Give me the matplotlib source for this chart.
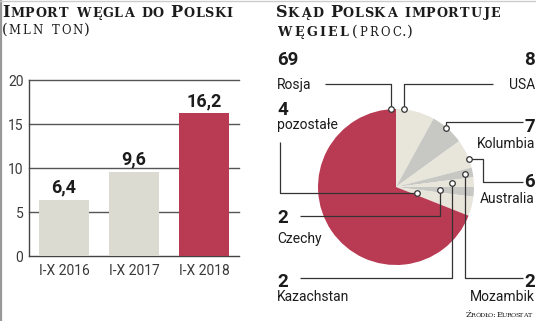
import matplotlib
matplotlib.use('Agg')
import matplotlib.pyplot as plt
import numpy as np
from matplotlib.textpath import TextPath
from matplotlib.font_manager import FontProperties

W, H = 536, 321

# bar chart data
years = ['I-X 2016', 'I-X 2017', 'I-X 2018']
imports = [6.4, 9.6, 16.2]
import_labels = ['6,4', '9,6', '16,2']
y_ticks = [0, 5, 10, 15, 20]

# pie chart data (clockwise from 12 o'clock)
countries = ['USA', 'Kolumbia', 'Australia', 'Mozambik', 'Kazachstan', 'Czechy', 'pozostałe', 'Rosja']
shares = [8, 7, 6, 2, 2, 2, 4, 69]

RED = '#b93a53'
BEIGE = '#e8e5db'
GREY = '#c7c8c3'
BAR_BEIGE = '#dcdbd2'
INK = '#1c1c1c'
LINE = '#333333'

pie_colors = [BEIGE, GREY, BEIGE, GREY, BEIGE, GREY, BEIGE, RED]

SANS = 'Roboto'
SERIF = 'DejaVu Serif'

fig = plt.figure(figsize=(W / 100, H / 100), dpi=100)

# --- bar chart ---
ax = fig.add_axes([29 / W, 1 - 256 / H, 210 / W, 176 / H])
xs = range(len(years))
ax.bar(xs, imports, width=50 / 70, color=[BAR_BEIGE, BAR_BEIGE, RED], zorder=3)
for v in y_ticks[1:]:
    ax.axhline(v, color='#555555', lw=1, zorder=1, clip_on=False)
ax.set_xlim(-0.5, 2.5)
ax.set_ylim(0, 20)
ax.set_yticks(y_ticks)
ax.set_xticks(list(xs))
ax.set_xticklabels(years)
ax.tick_params(length=0, labelsize=10, colors='#3a3a3a', pad=4)
ax.tick_params(axis='x', pad=6)
for lab in ax.get_xticklabels() + ax.get_yticklabels():
    lab.set_family(SANS)
for lab in ax.get_yticklabels():
    lab.set_verticalalignment('center_baseline')
for s in ['top', 'right']:
    ax.spines[s].set_visible(False)
for s in ['left', 'bottom']:
    ax.spines[s].set_color('#444444')
    ax.spines[s].set_linewidth(1)
for x, v, lab in zip(xs, imports, import_labels):
    ax.annotate(lab, (x, v), xytext=(0, 2), textcoords='offset points',
                ha='center', va='bottom', fontsize=13, fontweight='bold',
                family=SANS, color=INK)

# --- overlay in pixel units (y up) ---
ov = fig.add_axes([0, 0, 1, 1], zorder=5)
ov.patch.set_alpha(0)

cx, cy, r = 396, 187, 78
wedges, _ = ov.pie(shares, colors=pie_colors, startangle=90, counterclock=False,
                   center=(cx, H - cy), radius=r, wedgeprops=dict(linewidth=0))
ov.set_xlim(0, W)
ov.set_ylim(0, H)
ov.axis('off')

# where the leader dot sits inside each wedge: (fraction of wedge angle, fraction of radius)
dot_pos = {
    'USA': (0.79, 1.0), 'Kolumbia': (0.56, 0.99), 'Australia': (0.3, 1.0),
    'Mozambik': (0.5, 0.9), 'Kazachstan': (0.5, 0.72), 'Czechy': (0.5, 0.56),
    'pozostałe': (0.39, 0.28), 'Rosja': (0.016, 1.0),
}
# leader paths: ('v', y) vertical move, ('h', x) horizontal move (image pixels)
paths = {
    'Rosja': [('v', 84), ('h', 325)],
    'USA': [('v', 84), ('h', 493)],
    'Kolumbia': [('v', 122), ('h', 523)],
    'Australia': [('h', 483), ('v', 182), ('h', 523)],
    'Mozambik': [('v', 278), ('h', 523)],
    'Kazachstan': [('v', 278), ('h', 300)],
    'Czechy': [('v', 216), ('h', 300)],
    'pozostałe': [('h', 280), ('v', 142)],
}
# label anchor: x, ha, number baseline, name baseline
label_pos = {
    'Rosja': (277, 'left', 65, 89),
    'USA': (535, 'right', 65, 89),
    'pozostałe': (277, 'left', 115, 129),
    'Kolumbia': (535, 'right', 132, 148),
    'Australia': (535, 'right', 187, 203),
    'Czechy': (277, 'left', 223, 243),
    'Kazachstan': (277, 'left', 287, 301),
    'Mozambik': (535, 'right', 287, 301),
}

for name, val, w in zip(countries, shares, wedges):
    fa, fr = dot_pos[name]
    ang = np.radians(w.theta1 + fa * (w.theta2 - w.theta1))
    dx = cx + r * fr * np.cos(ang)
    dy = cy - r * fr * np.sin(ang)
    px, py = [dx], [dy]
    for kind, c in paths[name]:
        if kind == 'v':
            px.append(px[-1]); py.append(c)
        else:
            px.append(c); py.append(py[-1])
    ov.plot(px, [H - p for p in py], color=LINE, lw=0.9, solid_capstyle='butt')
    ov.plot([dx], [H - dy], 'o', ms=4, mfc='white', mec=LINE, mew=0.9, zorder=6)
    lx, ha, ny, tyy = label_pos[name]
    ov.text(lx, H - ny, str(val), ha=ha, va='baseline', fontsize=13.5,
            fontweight='bold', family=SANS, color=INK)
    ov.text(lx, H - tyy, name, ha=ha, va='baseline', fontsize=10,
            family=SANS, color=INK)


# --- small caps titles: letters placed by ink width, tracked to fit a width ---
def small_caps(x, y, text, big, small, width, weight='bold', space=0.35):
    fp = FontProperties(family=SERIF, weight=weight)
    glyphs = []
    n_space = 0
    for ch in text:
        if ch == ' ':
            glyphs.append(None)
            n_space += 1
            continue
        size = small if ch.islower() else big
        ext = TextPath((0, 0), ch.upper(), size=size * 100 / 72, prop=fp).get_extents()
        glyphs.append((ch.upper(), size, ext.x0, ext.x1))
    ink = sum(g[3] - g[2] for g in glyphs if g)
    sp = small * 100 / 72 * space
    gaps = len(text) - 1
    track = (width - ink - n_space * sp) / gaps
    cur = x
    for g in glyphs:
        if g is None:
            cur += sp + track
            continue
        ch, size, x0, x1 = g
        ov.text(cur - x0, H - y, ch, fontsize=size, fontweight=weight,
                family=SERIF, color=INK, va='baseline', ha='left')
        cur += (x1 - x0) + track


small_caps(3, 17, 'Import węgla do Polski', 11.6, 9.2, 229)
small_caps(3, 34, '(mln ton)', 10.6, 8.4, 86, weight='normal')
small_caps(277, 17, 'Skąd Polska importuje', 11.6, 9.2, 223)
small_caps(277, 36, 'węgiel', 11.6, 9.2, 71)
small_caps(353, 36, '(proc.)', 10.6, 8.4, 59, weight='normal')
small_caps(466, 317, 'Źródło: Eurostat', 6.0, 4.6, 66, weight='normal', space=0.5)

# frame lines at left and top
ov.plot([1, 1], [0, H], color='#999999', lw=1.6)
ov.plot([0, W], [H - 0.5, H - 0.5], color='#cccccc', lw=1)

fig.savefig('out.png', dpi=100)
